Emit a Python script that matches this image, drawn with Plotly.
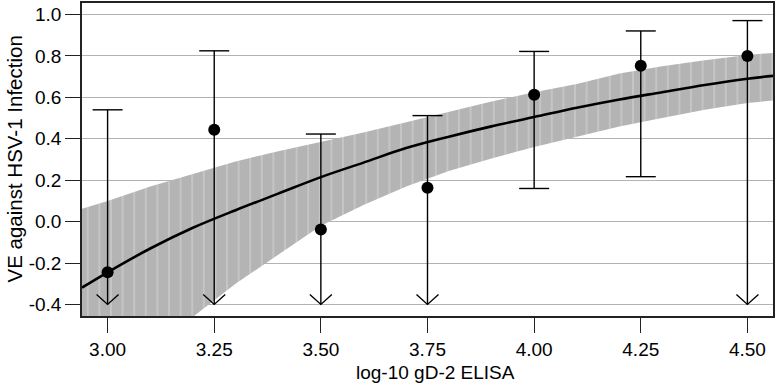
import plotly.graph_objects as go

# ---- data ----
x_obs = [3.00, 3.25, 3.50, 3.75, 4.00, 4.25, 4.50]
ve_obs = [-0.245, 0.444, -0.038, 0.163, 0.613, 0.753, 0.800]
ci_upper = [0.54, 0.825, 0.423, 0.512, 0.822, 0.921, 0.971]
ci_lower = [-0.40, -0.40, -0.40, -0.40, 0.16, 0.217, -0.40]
lower_truncated = [True, True, True, True, False, False, True]

x_fit = [2.94, 3.0, 3.1, 3.2, 3.3, 3.4, 3.5, 3.6, 3.7, 3.8, 3.9, 4.0, 4.1, 4.2, 4.3, 4.4, 4.5, 4.56]
ve_fit = [-0.319, -0.245, -0.13, -0.03, 0.055, 0.135, 0.215, 0.285, 0.355, 0.41, 0.46, 0.505, 0.55, 0.59, 0.625, 0.66, 0.69, 0.704]
band_upper = [0.062, 0.10, 0.17, 0.23, 0.29, 0.34, 0.385, 0.43, 0.48, 0.53, 0.58, 0.625, 0.665, 0.715, 0.75, 0.78, 0.805, 0.815]
band_lower = [-0.95, -0.83, -0.65, -0.46, -0.30, -0.16, -0.02, 0.08, 0.17, 0.245, 0.305, 0.36, 0.41, 0.46, 0.50, 0.54, 0.573, 0.585]

x_ticks = [3.00, 3.25, 3.50, 3.75, 4.00, 4.25, 4.50]
x_ticklabels = ["3.00", "3.25", "3.50", "3.75", "4.00", "4.25", "4.50"]
y_ticks = [-0.4, -0.2, 0.0, 0.2, 0.4, 0.6, 0.8, 1.0]
y_ticklabels = ["-0.4", "-0.2", "0.0", "0.2", "0.4", "0.6", "0.8", "1.0"]
x_title = "log-10 gD-2 ELISA"
y_title = "VE against HSV-1 Infection"

FONT = "Liberation Sans, Arial, sans-serif"

fig = go.Figure()

# confidence band
fig.add_trace(go.Scatter(x=x_fit, y=band_lower, mode="lines", line=dict(width=0),
                         hoverinfo="skip", showlegend=False))
fig.add_trace(go.Scatter(x=x_fit, y=band_upper, mode="lines", line=dict(width=0),
                         fill="tonexty", fillcolor="#b4b4b4",
                         fillpattern=dict(shape="|", bgcolor="#b4b4b4", fgcolor="#ececec",
                                          size=11.6, solidity=0.1),
                         hoverinfo="skip", showlegend=False))

# fitted curve
fig.add_trace(go.Scatter(x=x_fit, y=ve_fit, mode="lines", line=dict(color="black", width=2.6, shape="spline"),
                         showlegend=False))

# whiskers
wx, wy = [], []
for xv, lo, hi in zip(x_obs, ci_lower, ci_upper):
    wx += [xv, xv, None]
    wy += [lo, hi, None]
fig.add_trace(go.Scatter(x=wx, y=wy, mode="lines", line=dict(color="black", width=1.4),
                         showlegend=False))

# points
fig.add_trace(go.Scatter(x=x_obs, y=ve_obs, mode="markers",
                         marker=dict(color="black", size=12), showlegend=False))

shapes = []
for xv, lo, hi, trunc in zip(x_obs, ci_lower, ci_upper, lower_truncated):
    shapes.append(dict(type="path", xref="x", yref="y", xsizemode="pixel", ysizemode="pixel",
                       xanchor=xv, yanchor=hi, path="M -15,0 L 15,0",
                       line=dict(color="black", width=1.4)))
    if trunc:
        shapes.append(dict(type="path", xref="x", yref="y", xsizemode="pixel", ysizemode="pixel",
                           xanchor=xv, yanchor=lo, path="M -11,10 L 0,0 L 11,10",
                           line=dict(color="black", width=1.4)))
    else:
        shapes.append(dict(type="path", xref="x", yref="y", xsizemode="pixel", ysizemode="pixel",
                           xanchor=xv, yanchor=lo, path="M -15,0 L 15,0",
                           line=dict(color="black", width=1.4)))

fig.update_layout(
    width=776, height=385,
    margin=dict(l=82, r=3, t=3, b=69),
    paper_bgcolor="white", plot_bgcolor="white",
    font=dict(family=FONT, size=19, color="black"),
    shapes=shapes,
    annotations=[
        dict(text=x_title, xref="paper", yref="paper", x=0.512, y=0, yshift=-56,
             xanchor="center", yanchor="middle", showarrow=False,
             font=dict(family=FONT, size=19)),
        dict(text=y_title, xref="paper", yref="paper", x=0, y=0.5, xshift=-68,
             xanchor="center", yanchor="middle", textangle=-90, showarrow=False,
             font=dict(family=FONT, size=20.5)),
    ],
    xaxis=dict(range=[2.94, 4.56], tickvals=x_ticks, ticktext=x_ticklabels, automargin=False,
               showgrid=False, zeroline=False, showline=True, mirror=True,
               linecolor="#222222", linewidth=1.5, ticks="outside", ticklen=15,
               tickwidth=1.3, tickcolor="#222222"),
    yaxis=dict(range=[-0.456, 1.056], tickvals=y_ticks, ticktext=y_ticklabels, automargin=False,
               showgrid=True, gridcolor="#b3b3b3", gridwidth=1, zeroline=False,
               showline=True, mirror=True, linecolor="#222222", linewidth=1.5,
               ticks="outside", ticklen=15, tickwidth=1.3, tickcolor="#222222"),
)

fig.write_html("out.html", config={"displayModeBar": False},
               post_script="document.body.style.margin='0';document.body.style.overflow='hidden';")
